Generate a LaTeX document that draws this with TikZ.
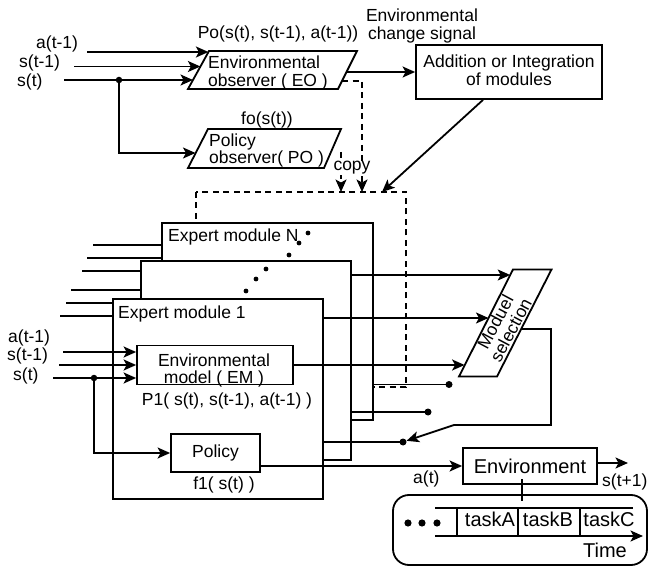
\documentclass[tikz,border=0pt]{standalone}
\usepackage{fontspec}
\setmainfont{Liberation Sans}
\usetikzlibrary{arrows.meta}
\begin{document}
\begin{tikzpicture}[x=1pt,y=-1pt,
  boxst/.style={draw, line width=1.8pt, fill=white, inner sep=0pt},
  conn/.style={line width=1.8pt},
  arr/.style={line width=1.8pt, -{Stealth[length=12.5pt,width=11pt,inset=3pt]}},
  darr/.style={line width=1.6pt, dash pattern=on 6pt off 4.5pt, -{Stealth[length=12.5pt,width=11pt,inset=3pt]}},
  dsh/.style={line width=1.6pt, dash pattern=on 6pt off 4.5pt},
  shp/.style={line width=1.8pt, fill=white},
  txt/.style={inner sep=0pt, font=\fontsize{17.5}{17.5}\selectfont},
  bigtxt/.style={inner sep=0pt, font=\fontsize{20}{20}\selectfont},
  jdot/.style={circle, fill=black, inner sep=0pt, minimum size=7pt},
]
\path[use as bounding box, fill=white] (0,0) rectangle (649,567);

% ---------- top: observers ----------
\node[txt, anchor=base west] (la1) at (36,48.5) {a(t-1)};
\node[txt, anchor=base west] (ls1) at (19,68) {s(t-1)};
\node[txt, anchor=base west] (ls0) at (17,87) {s(t)};
\coordinate (a1s) at (87,52);
\coordinate (s1s) at (74,66.5);
\coordinate (s0s) at (64,80);
\coordinate (eoIa) at (208.4,52);
\coordinate (eoIb) at (200.4,66.5);
\coordinate (eoIc) at (193,80);
\coordinate (poI) at (195.5,153);

\draw[shp] (188,89) -- (209,51) -- (357,51) -- (338,89) -- cycle;
\node[txt, align=left, anchor=north west] (eo) at (208,55.7) {Environmental\\observer ( EO )};
\node[txt, anchor=base] (poLbl) at (278,38.5) {Po(s(t), s(t-1), a(t-1))};

\draw[shp] (188,168) -- (208,129) -- (341,129) -- (324,168) -- cycle;
\node[txt, align=left, anchor=north west] (po) at (209,133.2) {Policy\\observer( PO )};
\node[txt, anchor=base] (foLbl) at (267,125) {fo(s(t))};

\draw[arr] (a1s) -- (eoIa);
\draw[arr] (s1s) -- (eoIb);
\draw[arr] (s0s) -- (eoIc);
\node[jdot, minimum size=6.5pt] (j0) at (119,80) {};
\draw[arr] (j0.center) |- (poI);

% ---------- addition ----------
\node[boxst, minimum width=186pt, minimum height=54pt] (add) at (509,72) {};
\node[txt, align=center] (addt) at (509,70.3) {Addition or Integration\\of modules};
\node[txt, align=center, anchor=north] (ecs) at (422,8.7) {Environmental\\change signal};
\coordinate (eoR) at (346.5,72);
\draw[arr] (eoR) -- (add.west);

% ---------- dashed copy frame ----------
\draw[dsh] (196,192) rectangle (406,387);
\coordinate (eoD) at (342,81);
\coordinate (cpA) at (362,192);
\draw[darr] (eoD) -| (cpA);
\coordinate (poD) at (341,152);
\coordinate (cpB) at (341,192);
\draw[darr] (poD) -- (cpB);
\node[txt, fill=white, anchor=base] (copy) at (352,171) {copy};
\coordinate (cpC) at (382,192);
\draw[arr] ([xshift=-26pt]add.south) -- (cpC);

% ---------- expert modules ----------
\node[boxst, minimum width=211pt, minimum height=197pt] (modN) at (267.5,321.5) {};
\node[boxst, minimum width=210pt, minimum height=199pt] (mod2) at (246,360.5) {};
\node[boxst, minimum width=210pt, minimum height=200pt] (mod1) at (218,399) {};

\coordinate (iN1) at (93,245);
\coordinate (iN2) at (87,258);
\coordinate (iN3) at (82,271);
\coordinate (i21) at (71,290);
\coordinate (i11) at (66,303);
\coordinate (i12) at (60,316);
\draw[conn] (iN1) -- (iN1 -| modN.west);
\draw[conn] (iN2) -- (iN2 -| modN.west);
\draw[conn] (iN3) -- (iN3 -| mod2.west);
\draw[conn] (i21) -- (i21 -| mod2.west);
\draw[conn] (i11) -- (i11 -| mod1.west);
\draw[conn] (i12) -- (i12 -| mod1.west);

\node[txt, anchor=base west] (lblN) at (168,242) {Expert module N};
\node[txt, anchor=base west] (lbl1) at (118,318.5) {Expert module 1};
\foreach \p in {(308,233),(299,243),(289,255),(266,269),(256,279),(246,291)}
  \fill \p circle (2.4pt);

% environmental model
\node[boxst, minimum width=156pt, minimum height=39pt] (em) at (215,365) {};
\node[txt, align=center, anchor=north] (emt) at (214,353.3) {Environmental\\model ( EM )};
\node[txt, anchor=base west] (ea1) at (8,342) {a(t-1)};
\node[txt, anchor=base west] (es1) at (7,360.5) {s(t-1)};
\node[txt, anchor=base west] (es0) at (13,381) {s(t)};
\coordinate (ea) at (63,352);
\coordinate (esa) at (59,365);
\coordinate (esb) at (53,378);
\draw[arr] (ea) -- (ea -| em.west);
\draw[arr] (esa) -- (esa -| em.west);
\draw[arr] (esb) -- (esb -| em.west);
\node[txt, anchor=base] (p1) at (227,405) {P1( s(t), s(t-1), a(t-1) )};

% policy
\node[boxst, txt, minimum width=89pt, minimum height=38pt] (pol) at (215.5,453) {Policy};
\node[jdot, minimum size=6.5pt] (j1) at (94,378) {};
\draw[arr] (j1.center) |- (pol.west);
\node[txt, anchor=base] (f1) at (224,489) {f1( s(t) )};

% ---------- outputs to module selection ----------
\coordinate (o2) at (351,275);
\coordinate (msA) at (510.2,275);
\draw[arr] (o2) -- (msA);
\coordinate (o1) at (323,318);
\coordinate (msB) at (488.5,318);
\draw[arr] (o1) -- (msB);
\coordinate (msC) at (464.6,365);
\draw[arr] (em.east) -- (msC);

\draw[shp] (459,376.5) -- (513,269.5) -- (551.5,269.5) -- (497,376.5) -- cycle;
\node[txt, align=center, rotate=62] (ms) at (503,326) {Moduel\\selection};

% switch
\node[jdot] (sw1) at (449,384.5) {};
\node[jdot] (sw2) at (428,412) {};
\node[jdot] (sw3) at (403,442) {};
\draw[conn] (modN.east |- sw1) -- (sw1.center);
\draw[conn] (mod2.east |- sw2) -- (sw2.center);
\draw[conn] (mod1.east |- sw3) -- (sw3.center);
\coordinate (msR) at (521.2,329);
\coordinate (bend) at (454,425);
\draw[arr] (msR) -- (551,329) -- (551,425) -- (bend) -- (sw3);

% ---------- environment ----------
\node[boxst, bigtxt, minimum width=134pt, minimum height=36pt] (env) at (530,466) {Environment};
\draw[arr] ([yshift=-13pt]pol.east) -- (env.west);
\node[txt, anchor=base west] (at) at (413,483) {a(t)};
\coordinate (st1) at (628,463);
\draw[arr] ([yshift=3pt]env.east) -- (st1);
\node[txt, anchor=base west] (stp1) at (602,486) {s(t+1)};

% ---------- task timeline ----------
\node[draw, line width=1.8pt, rounded corners=16pt, minimum width=254pt, minimum height=70pt, inner sep=0pt] (tl) at (520,530) {};
\coordinate (tk) at (522,479);
\coordinate (tkb) at (522,501);
\draw[conn] (tk) -- (tkb);
\draw[conn] (435,508) -- (633,508);
\draw[arr] (435,536) -- (643,536);
\foreach \x in {457,518,580} \draw[conn] (\x,508) -- (\x,536);
\node[bigtxt, anchor=base] (tA) at (490,526) {taskA};
\node[bigtxt, anchor=base] (tB) at (548,526) {taskB};
\node[bigtxt, anchor=base] (tC) at (609,526) {taskC};
\node[bigtxt, anchor=base] (tm) at (605,557) {Time};
\foreach \x in {408,422,437} \fill (\x,523) circle (3.6pt);
\end{tikzpicture}
\end{document}
